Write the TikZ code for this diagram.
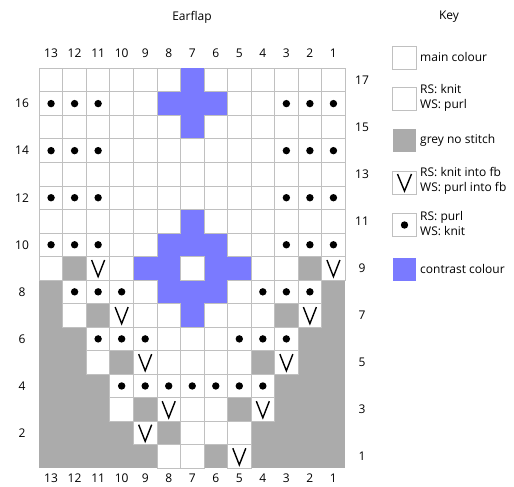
\documentclass[tikz,border=0pt]{standalone}
\usepackage{fontspec}
\setmainfont{Open Sans}
\definecolor{contrastc}{RGB}{122,122,255}
\definecolor{greyns}{RGB}{171,171,171}
\definecolor{gridc}{RGB}{192,192,192}
\def\gx{39.3}
\def\gy{68.3}
\def\cs{23.53}
\def\cG{G}\def\cC{C}\def\cD{D}\def\cV{V}\def\cW{W}
\newcommand\fillrow[2]{%
  \foreach \t [count=\i from 0] in {#2} {%
    \ifx\t\cG \def\fc{greyns}\else\ifx\t\cC \def\fc{contrastc}\else\def\fc{white}\fi\fi
    \fill[\fc] ({\gx+\cs*\i-0.15},{\gy+\cs*(17-#1)-0.15}) rectangle ++({\cs+0.3},{\cs+0.3});
  }}
\newcommand\markrow[2]{%
  \foreach \t [count=\i from 0] in {#2} {%
    \ifx\t\cG\else\ifx\t\cC\else
      \draw[gridline] ({\gx+\cs*\i},{\gy+\cs*(17-#1)}) rectangle ++(\cs,\cs);
    \fi\fi
    \ifx\t\cD \fill ({\gx+\cs*(\i+0.5)},{\gy+\cs*(17.5-#1)}) circle (3.7pt); \fi
    \ifx\t\cV \draw[vmark] ({\gx+\cs*(\i+0.5)-6.5},{\gy+\cs*(17.5-#1)-8.3}) -- ({\gx+\cs*(\i+0.5)},{\gy+\cs*(17.5-#1)+8.3}) -- ({\gx+\cs*(\i+0.5)+6.5},{\gy+\cs*(17.5-#1)-8.3}); \fi
  }}
\newcommand\chartdata{%
  \dorow{17}{W,W,W,W,W,W,C,W,W,W,W,W,W}%
  \dorow{16}{D,D,D,W,W,C,C,C,W,W,D,D,D}%
  \dorow{15}{W,W,W,W,W,W,C,W,W,W,W,W,W}%
  \dorow{14}{D,D,D,W,W,W,W,W,W,W,D,D,D}%
  \dorow{13}{W,W,W,W,W,W,W,W,W,W,W,W,W}%
  \dorow{12}{D,D,D,W,W,W,W,W,W,W,D,D,D}%
  \dorow{11}{W,W,W,W,W,W,C,W,W,W,W,W,W}%
  \dorow{10}{D,D,D,W,W,C,C,C,W,W,D,D,D}%
  \dorow{9}{W,G,V,W,C,C,W,C,C,W,W,G,V}%
  \dorow{8}{G,D,D,D,W,C,C,C,W,D,D,D,G}%
  \dorow{7}{G,W,G,V,W,W,C,W,W,W,G,V,G}%
  \dorow{6}{G,G,D,D,D,W,W,W,D,D,D,G,G}%
  \dorow{5}{G,G,W,G,V,W,W,W,W,G,V,G,G}%
  \dorow{4}{G,G,G,D,D,D,D,D,D,D,G,G,G}%
  \dorow{3}{G,G,G,W,G,V,W,W,G,V,G,G,G}%
  \dorow{2}{G,G,G,G,V,G,W,W,W,G,G,G,G}%
  \dorow{1}{G,G,G,G,G,W,W,G,V,G,G,G,G}%
}
\tikzset{
  gridline/.style={draw=gridc, line width=0.9pt},
  vmark/.style={line width=1.4pt, line join=miter},
  lbl/.style={font=\fontsize{12}{15}\selectfont, inner sep=0pt},
  keybox/.style={minimum width=23.5pt, minimum height=23pt, inner sep=0pt},
  keytext/.style={font=\fontsize{12}{15}\selectfont, anchor=west, align=left, inner sep=0pt},
}
\begin{document}
\begin{tikzpicture}[x=1pt,y=-1pt]
\useasboundingbox[fill=white] (0,0) rectangle (514,487);
\let\dorow\fillrow \chartdata
\let\dorow\markrow \chartdata
% titles
\node[lbl] (title) at (192,17) {Earflap};
\node[lbl] (keytitle) at (449,17) {Key};
% column labels
\foreach \c [count=\i from 0] in {13,12,11,10,9,8,7,6,5,4,3,2,1} {
  \node[lbl] (ct\c) at ({\gx+\cs*(\i+0.5)},53) {\c};
  \node[lbl] (cb\c) at ({\gx+\cs*(\i+0.5)},478) {\c};
}
% row labels
\foreach \r in {16,14,...,2} {
  \node[lbl] (rl\r) at (22,{\gy+\cs*(17.5-\r)}) {\r};
}
\foreach \r in {17,15,...,1} {
  \node[lbl] (rr\r) at (362,{\gy+\cs*(17.5-\r)}) {\r};
}
% key
\node[keybox, draw=gridc, line width=0.9pt, fill=white] (k1) at (404.5,57.5) {};
\node[keytext] (t1) at (420,57.5) {main colour};
\node[keybox, draw=gridc, line width=0.9pt, fill=white] (k2) at (404.5,98.5) {};
\node[keytext] (t2) at (420,97.5) {RS: knit\\WS: purl};
\node[keybox, fill=greyns] (k3) at (404.5,140) {};
\node[keytext] (t3) at (420,140) {grey no stitch};
\node[keybox, draw=gridc, line width=0.9pt, fill=white] (k4) at (404.5,182.5) {};
\draw[vmark] ([xshift=-7pt,yshift=8.5pt]k4.center) -- ([yshift=-8.5pt]k4.center) -- ([xshift=7pt,yshift=8.5pt]k4.center);
\node[keytext] (t4) at (420,180.5) {RS: knit into fb\\WS: purl into fb};
\node[keybox, draw=gridc, line width=0.9pt, fill=white] (k5) at (404.5,225) {};
\fill (k5.center) circle (3.7pt);
\node[keytext] (t5) at (420,224) {RS: purl\\WS: knit};
\node[keybox, fill=contrastc] (k6) at (404.5,269) {};
\node[keytext] (t6) at (420,269) {contrast colour};
\end{tikzpicture}
\end{document}
